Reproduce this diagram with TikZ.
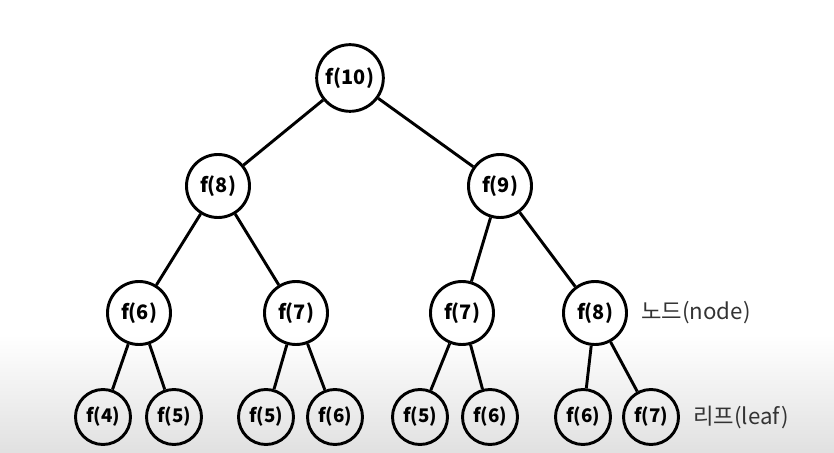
\documentclass[tikz,border=0pt]{standalone}
\usepackage{fontspec}
\setmainfont{Noto Sans CJK KR}
\begin{document}
\begin{tikzpicture}[x=0.03cm, y=-0.03cm,
    line width=2.5pt,
    fnode/.style={circle, draw, inner sep=0pt, minimum size=1.89cm,
      font=\fontsize{17}{20}\selectfont\bfseries},
    leaf/.style={fnode, minimum size=1.65cm, font=\fontsize{16}{19}\selectfont\bfseries},
    lab/.style={anchor=west, text=black!80, font=\fontsize{19}{23}\selectfont}]
    \useasboundingbox (0,0) rectangle (834,453);
    \fill[top color=white, bottom color=black!12, draw=none] (0,335) rectangle (834,453);

    \def\yA{78}
    \def\yB{186}
    \def\yC{313}
    \def\yD{417}

    \node[fnode, minimum size=2cm] (root) at (350,\yA) {f(10)};

    \node[fnode] (b1) at (218,\yB) {f(8)};
    \node[fnode] (b2) at (500,\yB) {f(9)};
    \draw (root) -- (b1);
    \draw (root) -- (b2);

    \foreach \name/\x/\txt/\up in {c1/139/6/b1, c2/296/7/b1, c3/462/7/b2, c4/595/8/b2}{
      \node[fnode] (\name) at (\x,\yC) {f(\txt)};
      \draw (\up) -- (\name);
    }

    \foreach \name/\x/\txt/\up in {d1/103/4/c1, d2/174/5/c1, d3/266/5/c2, d4/335/6/c2,
        d5/420/5/c3, d6/490/6/c3, d7/583/6/c4, d8/651/7/c4}{
      \node[leaf] (\name) at (\x,\yD) {f(\txt)};
      \draw (\up) -- (\name);
    }

    \node[lab] (nodelab) at (636,\yC) {노드(node)};
    \node[lab] (leaflab) at (688,\yD) {리프(leaf)};
  \end{tikzpicture}
\end{document}
